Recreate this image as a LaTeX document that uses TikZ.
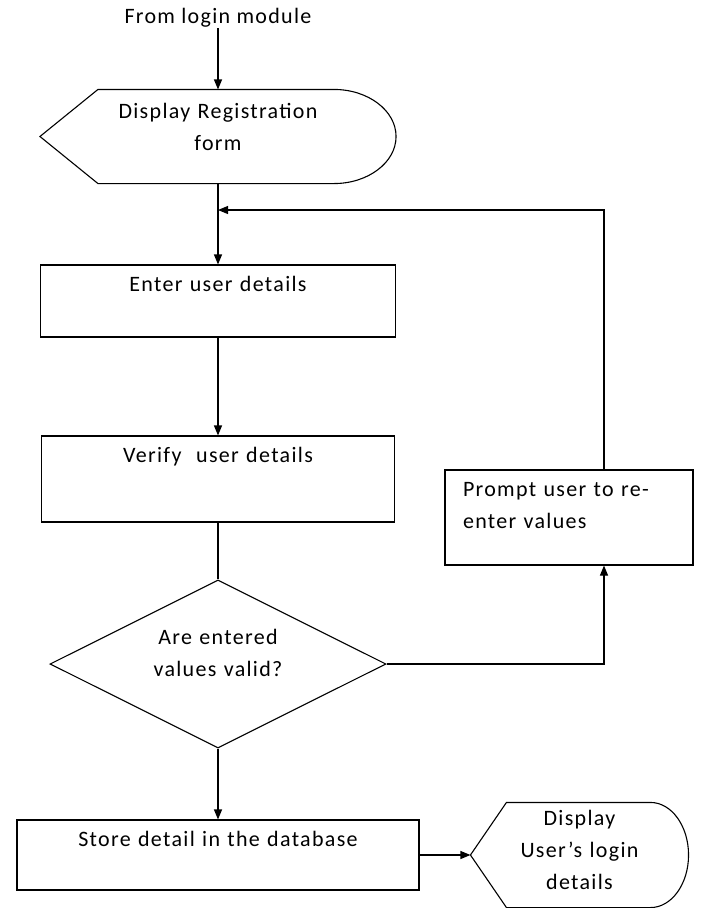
\documentclass[tikz,border=0pt]{standalone}
\usepackage{fontspec}
\setmainfont{Carlito}[LetterSpace=6.0]
\usepackage{tikz}
\usetikzlibrary{shapes.geometric}
\usetikzlibrary{arrows.meta}
\usetikzlibrary{calc}

\begin{document}
\begin{tikzpicture}[x=1pt, y=-1pt, line width=1.1pt,
        every node/.style={font=\fontsize{22}{32}\selectfont, inner sep=0pt},
        procbox/.style={draw, rectangle, align=center, text height=26pt},
        dispbox/.style={align=center},
        decision/.style={draw, diamond, aspect=2, align=center, text width=140pt, text height=16pt, text depth=56pt, minimum width=336pt, minimum height=168pt},
        >={Triangle[length=10pt, width=8pt]}]
        \useasboundingbox (0, 0) rectangle (701, 908);

        % Nodes
        \node (login) at (218, 18) {From login module};
        \node[dispbox, text width=250pt, text height=14pt, text depth=50pt, minimum width=355pt, minimum height=93pt] (regform) at (218, 136.5) {Display Registration\\form};
        \node[procbox, text width=355pt, text depth=46pt] (enter) at (218, 301) {Enter user details};
        \node[procbox, text width=353pt, text depth=60pt] (verify) at (218, 479) {Verify\ \ user details};
        \node[decision] (valid) at (218, 664) {Are entered\\values valid?};
        \node[procbox, align=left, inner xsep=18pt, text width=212pt, text depth=69pt] (prompt) at (569, 517.5) {Prompt user to re-\\enter values};
        \node[procbox, text width=402pt, text depth=44pt] (store) at (218, 855) {Store detail in the database};
        \node[dispbox, text width=150pt, text height=16pt, text depth=76pt, minimum width=217pt, minimum height=104pt] (userdisp) at (579.5, 855) {Display\\User’s login\\details};
        \coordinate (loop) at (604, 210);

        % Display outlines
        \draw (regform.west) -- ($(regform.north west)+(58,0)$) -- ($(regform.north east)+(-62,0)$)
                .. controls ($(regform.north east)+(-28,0)$) and ($(regform.east)+(0,-26)$) .. (regform.east)
                .. controls ($(regform.east)+(0,26)$) and ($(regform.south east)+(-28,0)$) .. ($(regform.south east)+(-62,0)$)
                -- ($(regform.south west)+(58,0)$) -- cycle;
        \draw (userdisp.west) -- ($(userdisp.north west)+(36,0)$) -- ($(userdisp.north east)+(-38,0)$)
                .. controls ($(userdisp.north east)+(-17,0)$) and ($(userdisp.east)+(0,-29)$) .. (userdisp.east)
                .. controls ($(userdisp.east)+(0,29)$) and ($(userdisp.south east)+(-17,0)$) .. ($(userdisp.south east)+(-38,0)$)
                -- ($(userdisp.south west)+(36,0)$) -- cycle;

        % Arrows
        \draw[->] (login) -- (regform);
        \draw[->] (regform) -- (enter);
        \draw[->] (enter) -- (verify);
        \draw[-] (verify) -- (valid);
        \draw[->] (valid) -- (store);
        \draw[->] (valid.east) -| (loop |- prompt.south);
        \draw[->] (loop |- prompt.north) -- (loop) -- (loop -| regform.south);
        \draw[->] (store) -- (userdisp);
\end{tikzpicture}
\end{document}
